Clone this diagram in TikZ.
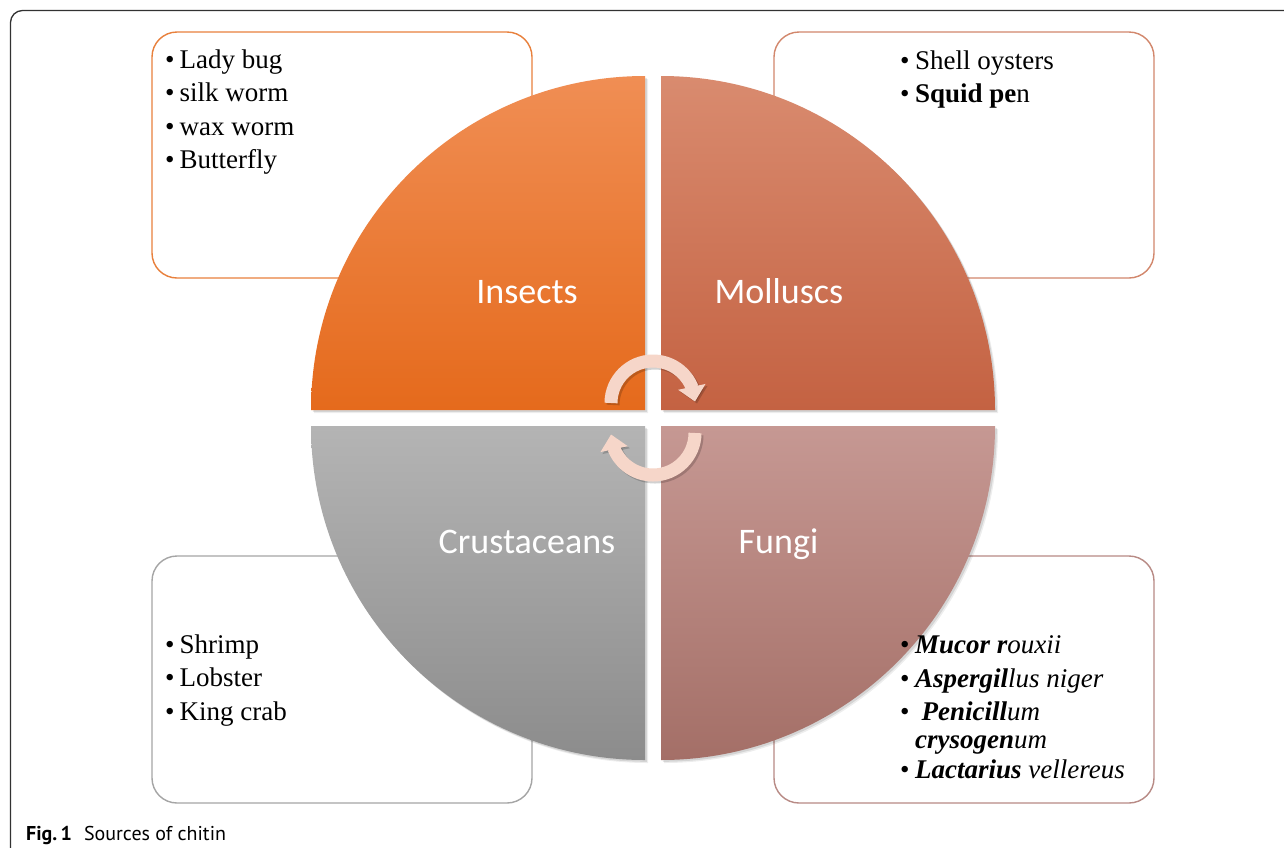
\documentclass[tikz,border=0pt]{standalone}
\usepackage{fontspec}
\setmainfont{Liberation Serif}
\newfontfamily\labelfont{Carlito}
\newfontfamily\capfont{PT Sans}
\usetikzlibrary{arrows.meta,bending}
\definecolor{framecol}{RGB}{50,50,50}
\definecolor{insTop}{RGB}{240,142,84}
\definecolor{insBot}{RGB}{229,106,28}
\definecolor{molTop}{RGB}{217,139,111}
\definecolor{molBot}{RGB}{196,98,66}
\definecolor{cruTop}{RGB}{180,180,180}
\definecolor{cruBot}{RGB}{140,140,140}
\definecolor{funTop}{RGB}{198,152,147}
\definecolor{funBot}{RGB}{164,111,103}
\definecolor{insLine}{RGB}{232,128,60}
\definecolor{molLine}{RGB}{210,135,108}
\definecolor{cruLine}{RGB}{165,165,165}
\definecolor{funLine}{RGB}{184,138,133}
\definecolor{arrowcol}{RGB}{246,214,201}
\tikzset{
  listbox/.style={line width=1.4pt, rounded corners=25pt},
  quarter/.style={draw=none},
  qlabel/.style={text=white, font=\labelfont\fontsize{36pt}{40pt}\selectfont, anchor=base, inner sep=0pt},
  item/.style={anchor=base west, inner sep=0pt, font=\fontsize{27pt}{33pt}\selectfont},
  cyclearrow/.style={arrowcol, line width=13pt, -{Triangle[length=15pt,width=27pt]}},
  arrowshadow/.style={black, opacity=0.18, line width=13pt, -{Triangle[length=15pt,width=27pt]}}
}
\begin{document}
\begin{tikzpicture}[x=1pt,y=-1pt]
\useasboundingbox (0,0) rectangle (1284,847);
\clip (0,0) rectangle (1284,847);
\fill[white] (0,0) rectangle (1284,847);
% outer frame
\draw[framecol, line width=1.3pt, rounded corners=12pt] (10.5,10.5) rectangle (1320,880);
% list boxes
\draw[listbox, insLine] (152,32) rectangle (532,278);
\draw[listbox, molLine] (774,32) rectangle (1154,278);
\draw[listbox, cruLine] (152,556) rectangle (532,803);
\draw[listbox, funLine] (774,556) rectangle (1154,803);
% shadows of quarters
\foreach \o/\a in {3/0.07,1.8/0.10}{
  \fill[black, opacity=\a] (645+\o,410+\o) -- (311+\o,410+\o) arc[start angle=180, end angle=270, radius=334] -- cycle;
  \fill[black, opacity=\a] (661+\o,410+\o) -- (661+\o,76+\o) arc[start angle=270, end angle=360, radius=334] -- cycle;
  \fill[black, opacity=\a] (645+\o,426+\o) -- (311+\o,426+\o) arc[start angle=180, end angle=90, radius=334] -- cycle;
  \fill[black, opacity=\a] (661+\o,426+\o) -- (995+\o,426+\o) arc[start angle=0, end angle=90, radius=334] -- cycle;
}
% quarters
\shade[quarter, top color=insTop, bottom color=insBot] (645,410) -- (311,410) arc[start angle=180, end angle=270, radius=334] -- cycle;
\shade[quarter, top color=molTop, bottom color=molBot] (661,410) -- (661,76) arc[start angle=270, end angle=360, radius=334] -- cycle;
\shade[quarter, top color=cruTop, bottom color=cruBot] (645,426) -- (311,426) arc[start angle=180, end angle=90, radius=334] -- cycle;
\shade[quarter, top color=funTop, bottom color=funBot] (661,426) -- (995,426) arc[start angle=0, end angle=90, radius=334] -- cycle;
% labels
\node[qlabel] (insects) at (527,303) {Insects};
\node[qlabel] (molluscs) at (779,303) {Molluscs};
\node[qlabel] (crustaceans) at (527,553) {Crustaceans};
\node[qlabel] (fungi) at (778.5,553) {Fungi};
% cycle arrows
\draw[arrowshadow] (613,405) arc[start angle=180, end angle=358, radius=42];
\draw[cyclearrow] (611,403) arc[start angle=180, end angle=358, radius=42];
\draw[arrowshadow] (697,435) arc[start angle=0, end angle=178, radius=42];
\draw[cyclearrow] (695,433) arc[start angle=0, end angle=178, radius=42];
% insects list
\node[item] (l1) at (165,68.5) {•\hspace{5pt}Lady bug};
\node[item] (l2) at (165,101.8) {•\hspace{5pt}silk worm};
\node[item] (l3) at (165,135.1) {•\hspace{5pt}wax worm};
\node[item] (l4) at (165,168.4) {•\hspace{5pt}Butterfly};
% molluscs list
\node[item] (m1) at (900,69) {•\hspace{5.5pt}Shell oysters};
\node[item] (m2) at (900,102.5) {•\hspace{5.5pt}\textbf{Squid pe}n};
% crustaceans list
\node[item] (c1) at (165,653) {•\hspace{5pt}Shrimp};
\node[item] (c2) at (165,686.5) {•\hspace{5pt}Lobster};
\node[item] (c3) at (165,720) {•\hspace{5pt}King crab};
% fungi list
\node[item] (f1) at (900,653) {•\hspace{5.5pt}\textit{\textbf{Mucor r}ouxii}};
\node[item] (f2) at (900,687) {•\hspace{5.5pt}\textit{\textbf{Aspergil}lus niger}};
\node[item] (f3) at (900,720) {•\hspace{12pt}\textit{\textbf{Penicill}um}};
\node[item] (f4) at (915,748.5) {\textit{\textbf{crysogen}um}};
\node[item] (f5) at (900,778) {•\hspace{5.5pt}\textit{\textbf{Lactarius} vellereus}};
% caption
\node[anchor=base west, inner sep=0pt, font=\capfont\fontsize{20pt}{24pt}\selectfont] (caption) at (26,840) {\textbf{Fig.\,1}\hspace{12pt}Sources of chitin};
\end{tikzpicture}
\end{document}
